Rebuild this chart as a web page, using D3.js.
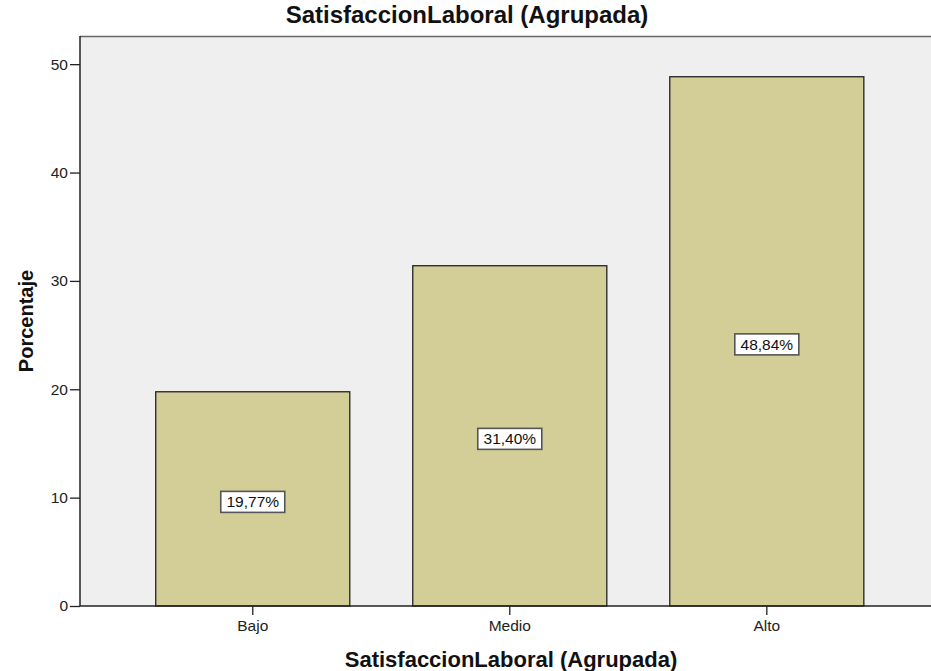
<!DOCTYPE html>
<html>
<head>
<meta charset="utf-8">
<script src="https://cdn.jsdelivr.net/npm/d3@7"></script>
<style>
  body { margin: 0; background: #ffffff; }
  svg { display: block; font-family: "Liberation Sans", Arial, sans-serif; }
</style>
</head>
<body>
<svg id="chart" width="931" height="671"></svg>
<script>
const categories = ["Bajo", "Medio", "Alto"];
const values = [19.77, 31.40, 48.84];
const valueLabels = ["19,77%", "31,40%", "48,84%"];
const yTicks = [0, 10, 20, 30, 40, 50];
const chartTitle = "SatisfaccionLaboral (Agrupada)";
const xTitle = "SatisfaccionLaboral (Agrupada)";
const yTitle = "Porcentaje";

const svg = d3.select("#chart");
const plot = { left: 80, top: 36, right: 931, bottom: 606 };

const x = d3.scaleBand()
  .domain(categories)
  .range([plot.left, plot.right])
  .paddingInner(0.245)
  .paddingOuter(0.278)
  .align(0.53);

const y = d3.scaleLinear()
  .domain([0, 52.6])
  .range([plot.bottom, plot.top]);

// plot background
svg.append("rect")
  .attr("x", plot.left).attr("y", plot.top)
  .attr("width", plot.right - plot.left)
  .attr("height", plot.bottom - plot.top)
  .attr("fill", "#efefef");

// top border line
svg.append("line")
  .attr("x1", plot.left).attr("x2", plot.right)
  .attr("y1", plot.top + 0.5).attr("y2", plot.top + 0.5)
  .attr("stroke", "#666").attr("stroke-width", 1.5);

// bars
svg.append("g").selectAll("rect")
  .data(categories)
  .join("rect")
  .attr("x", d => x(d))
  .attr("y", (d, i) => y(values[i]))
  .attr("width", x.bandwidth())
  .attr("height", (d, i) => y(0) - y(values[i]))
  .attr("fill", "#d3ce98")
  .attr("stroke", "#222")
  .attr("stroke-width", 1.3);

// value labels
const lab = svg.append("g").selectAll("g")
  .data(categories)
  .join("g")
  .attr("transform", (d, i) => `translate(${x(d) + x.bandwidth() / 2},${(y(values[i]) + y(0)) / 2 + 3})`);
lab.append("rect")
  .attr("x", -32).attr("y", -10.5)
  .attr("width", 64).attr("height", 21)
  .attr("fill", "#ffffff")
  .attr("stroke", "#555").attr("stroke-width", 1.6);
lab.append("text")
  .attr("text-anchor", "middle")
  .attr("dy", "0.36em")
  .attr("font-size", 15.5)
  .attr("fill", "#111")
  .text((d, i) => valueLabels[i]);

// y axis
const yAxis = d3.axisLeft(y).tickValues(yTicks).tickSize(10).tickPadding(2).tickFormat(d3.format("d"));
const gy = svg.append("g")
  .attr("transform", `translate(${plot.left},0)`)
  .call(yAxis);
gy.select(".domain").attr("stroke", "#222").attr("stroke-width", 1.5)
  .attr("d", `M0,${plot.top}V${plot.bottom}`);
gy.selectAll(".tick line").attr("stroke", "#222").attr("stroke-width", 1.3);
gy.selectAll(".tick text").attr("font-size", 15.5).attr("fill", "#222")
  .attr("font-family", "Liberation Sans, Arial, sans-serif");

// x axis
const xAxis = d3.axisBottom(x).tickSize(9).tickPadding(4);
const gx = svg.append("g")
  .attr("transform", `translate(0,${plot.bottom})`)
  .call(xAxis);
gx.select(".domain").attr("stroke", "#222").attr("stroke-width", 1.5)
  .attr("d", `M${plot.left},0H${plot.right}`);
gx.selectAll(".tick line").attr("stroke", "#222").attr("stroke-width", 1.3);
gx.selectAll(".tick text").attr("font-size", 15.5).attr("fill", "#222")
  .attr("y", 25).attr("dy", 0)
  .attr("font-family", "Liberation Sans, Arial, sans-serif");

// title
svg.append("text")
  .attr("x", 467).attr("y", 23)
  .attr("text-anchor", "middle")
  .attr("font-size", 24)
  .attr("font-weight", "bold")
  .attr("fill", "#111")
  .text(chartTitle);

// x axis title
svg.append("text")
  .attr("x", 511).attr("y", 667)
  .attr("text-anchor", "middle")
  .attr("font-size", 22)
  .attr("font-weight", "bold")
  .attr("fill", "#111")
  .text(xTitle);

// y axis title
svg.append("text")
  .attr("transform", `translate(33,321) rotate(-90)`)
  .attr("text-anchor", "middle")
  .attr("font-size", 20)
  .attr("font-weight", "bold")
  .attr("fill", "#111")
  .text(yTitle);
</script>
</body>
</html>
